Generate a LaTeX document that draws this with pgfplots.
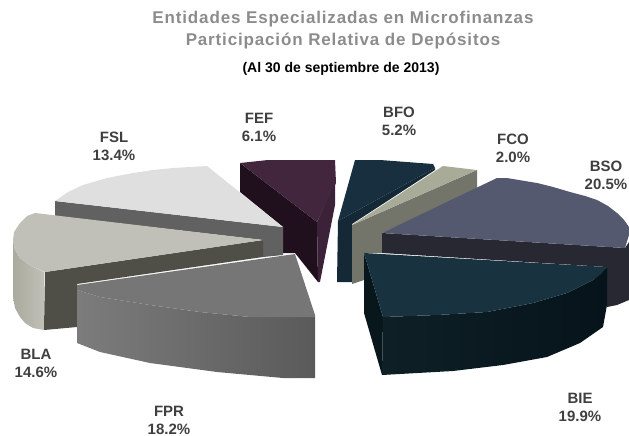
\documentclass[border=0pt]{standalone}
\usepackage{pgfplots}
\pgfplotsset{compat=1.18}
\usepackage{fontspec}
\setmainfont{Liberation Sans}
\definecolor{lab}{HTML}{3F3F3F}
\definecolor{ttl}{HTML}{8C8C8C}
\definecolor{blaL}{HTML}{AAAA9E}
\definecolor{blaR}{HTML}{C0C0B6}
\definecolor{fprL}{HTML}{7C7C7C}
\definecolor{fprR}{HTML}{5A5A5A}
\definecolor{bieL}{HTML}{0E2026}
\definecolor{bieR}{HTML}{06131A}
\definecolor{fefS}{HTML}{20101E}
\definecolor{fefR}{HTML}{3C2239}
\definecolor{fefT}{HTML}{42263E}
\definecolor{fslS}{HTML}{616161}
\definecolor{fslT}{HTML}{DFDFDF}
\definecolor{blaS}{HTML}{4F4F48}
\definecolor{blaT}{HTML}{C0C0B8}
\definecolor{fprT}{HTML}{767676}
\definecolor{bfoS}{HTML}{152836}
\definecolor{bfoT}{HTML}{182F3F}
\definecolor{fcoS}{HTML}{73756A}
\definecolor{fcoT}{HTML}{A9AB99}
\definecolor{bsoS}{HTML}{272832}
\definecolor{bsoT}{HTML}{54596F}
\definecolor{bieS}{HTML}{08171C}
\definecolor{bieT}{HTML}{183240}
\newfontface\ttlfont{Liberation Sans Bold}[LetterSpace=5]
\tikzset{lbl/.style={font=\bfseries\fontsize{15}{18}\selectfont,text=lab,align=center,inner sep=0pt}}
\begin{document}
\begin{tikzpicture}
\path[use as bounding box] (0,0) rectangle (629pt,436pt);
\begin{axis}[anchor=south west,at={(0,0)},width=629pt,height=436pt,scale only axis,hide axis,xmin=0,xmax=629,ymin=0,ymax=436,y dir=reverse,clip=false]
% FEF
\addplot[draw=none,fill=fefS] coordinates {(240,163)(317,222)(318,282)(295,253)(283,253)(283,227)(240,192)} -- cycle;
\addplot[draw=none,fill=fefR] coordinates {(317,222)(335,183)(335,205)(320,282)(318,282)} -- cycle;
\addplot[draw=none,fill=fefT] coordinates {(240,163)(268,160)(335,160)(336,183)(317,222)} -- cycle;
% FSL
\addplot[draw=none,fill=fslS] coordinates {(55,201)(283,227)(283,255)(263,257)(263,240)(55,216)} -- cycle;
\addplot[draw=none,fill=fslT] coordinates {(55,201)(68,192)(83,185)(107,178)(133,173)(153,170)(173,168)(207,166)(283,227)} -- cycle;
% BLA
\addplot[draw=none,left color=blaL,right color=blaR] coordinates {(13,240)(15,250)(20,258)(31,266)(44,272)(44,330)(33,328)(25,323)(20,317)(15,308)(13,297)} -- cycle;
\addplot[draw=none,fill=blaS] coordinates {(45,272)(263,240)(263,257)(77,284)(77,327)(44,330)} -- cycle;
\addplot[draw=none,fill=blaT] coordinates {(35,213)(263,240)(45,272)(31,266)(20,258)(15,250)(13,240)(14,232)(20,223)(27,216)} -- cycle;
% FPR
\addplot[draw=none,left color=fprL,right color=fprR] coordinates {(77,290)(100,297)(150,305)(200,312)(250,317)(315,317)(315,378)(283,378)(217,372)(150,363)(100,352)(77,343)} -- cycle;
\addplot[draw=none,fill=fprT] coordinates {(77,285)(295,254)(315,315)(315,317)(250,317)(200,312)(150,305)(100,297)(77,290)} -- cycle;
% BFO
\addplot[draw=none,fill=bfoS] coordinates {(338,221)(435,168)(435,170)(352,224)(352,282)(337,282)} -- cycle;
\addplot[draw=none,fill=bfoT] coordinates {(355,160)(380,160)(433,164)(435,168)(338,221)} -- cycle;
% FCO
\addplot[draw=none,fill=fcoS] coordinates {(352,225)(477,170)(477,190)(382,233)(382,253)(364,253)(364,280)(352,284)} -- cycle;
\addplot[draw=none,fill=fcoT] coordinates {(443,166)(477,170)(352,225)} -- cycle;
% BSO
\addplot[draw=none,fill=bsoS] coordinates {(382,233)(625,248)(629,242)(629,300)(617,305)(607,307)(607,267)(382,253)} -- cycle;
\addplot[draw=none,fill=bsoT] coordinates {(382,233)(497,178)(507,178)(537,183)(553,187)(570,192)(585,196)(597,200)(608,206)(617,213)(624,220)(629,227)(629,235)(625,248)} -- cycle;
% BIE
\addplot[draw=none,fill=bieS] coordinates {(364,253)(383,317)(382,375)(364,313)} -- cycle;
\addplot[draw=none,left color=bieL,right color=bieR] coordinates {(383,317)(437,315)(487,312)(533,303)(567,293)(593,280)(607,267)(607,305)(603,327)(580,343)(547,357)(503,365)(453,371)(382,375)} -- cycle;
\addplot[draw=none,fill=bieT] coordinates {(364,253)(607,267)(601,274)(593,280)(567,293)(533,303)(487,312)(437,315)(383,317)} -- cycle;
% text
\node[font=\ttlfont\fontsize{17}{19}\selectfont,text=ttl,inner sep=0pt] at (axis cs:343,19) {Entidades Especializadas en Microfinanzas};
\node[font=\ttlfont\fontsize{17}{19}\selectfont,text=ttl,inner sep=0pt] at (axis cs:343,41) {Participación Relativa de Depósitos};
\node[font=\bfseries\fontsize{14}{16}\selectfont,text=black,inner sep=0pt] at (axis cs:341,69) {(Al 30 de septiembre de 2013)};
\node[lbl] at (axis cs:259,127) {FEF\\6.1\%};
\node[lbl] at (axis cs:399,121) {BFO\\5.2\%};
\node[lbl] at (axis cs:513,148) {FCO\\2.0\%};
\node[lbl] at (axis cs:606,175) {BSO\\20.5\%};
\node[lbl] at (axis cs:580,407) {BIE\\19.9\%};
\node[lbl] at (axis cs:169,420) {FPR\\18.2\%};
\node[lbl] at (axis cs:36,363) {BLA\\14.6\%};
\node[lbl] at (axis cs:114,146) {FSL\\13.4\%};
\end{axis}
\end{tikzpicture}
\end{document}
